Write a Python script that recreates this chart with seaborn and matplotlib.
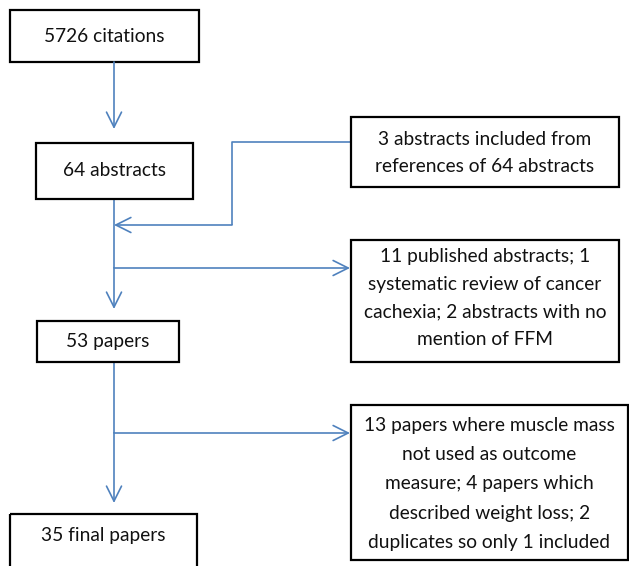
import matplotlib
matplotlib.use("Agg")
import matplotlib.pyplot as plt
from matplotlib.patches import Rectangle
import seaborn as sns

# flowchart content
stage_labels = [
    "5726 citations",
    "64 abstracts",
    "53 papers",
    "35 final papers",
]
side_labels = [
    "3 abstracts included from\nreferences of 64 abstracts",
    "11 published abstracts; 1\nsystematic review of cancer\ncachexia; 2 abstracts with no\nmention of FFM",
    "13 papers where muscle mass\nnot used as outcome\nmeasure; 4 papers which\ndescribed weight loss; 2\nduplicates so only 1 included",
]

# layout in pixel space (x0, y0, x1, y1), y grows downwards
stage_boxes = [(10, 10, 199, 62), (36, 143, 193, 199), (37, 321, 179, 362), (10, 514, 197, 590)]
stage_text_y = [36, 171, 341, 536]
side_boxes = [(351, 117, 619, 187), (351, 240, 619, 362), (351, 405, 628, 560)]
side_text_y = [153, 298, 484]
side_linespacing = [1.78, 1.74, 1.86]

sns.set_theme(style="white")
plt.rcParams["font.family"] = ["Lato", "DejaVu Sans"]

fig = plt.figure(figsize=(6.29, 5.66), dpi=100)
ax = fig.add_axes([0, 0, 1, 1])
ax.set_xlim(0, 629)
ax.set_ylim(566, 0)
ax.axis("off")

blue = "#4F81BD"
fs = 13.8


def box(b, text, ty, ls=1.2):
    x0, y0, x1, y1 = b
    ax.add_patch(Rectangle((x0, y0), x1 - x0, y1 - y0, fill=False,
                           edgecolor="black", linewidth=1.6, zorder=3))
    ax.text((x0 + x1) / 2, ty, text, ha="center", va="center",
            fontsize=fs, linespacing=ls, color="#111111", zorder=4)


def arrow(p0, p1):
    ax.annotate("", xy=p1, xytext=p0,
                arrowprops=dict(arrowstyle="->,head_length=0.9,head_width=0.45",
                                color=blue, lw=1.2, shrinkA=0, shrinkB=0))


def line(xs, ys):
    ax.plot(xs, ys, color=blue, lw=1.2, solid_capstyle="butt")


for b, t, ty in zip(stage_boxes, stage_labels, stage_text_y):
    box(b, t, ty)
for b, t, ty, ls in zip(side_boxes, side_labels, side_text_y, side_linespacing):
    box(b, t, ty, ls)

# connectors
cx = 114
arrow((cx, 62), (cx, 129))
line([351, 232, 232], [142, 142, 225])
arrow((232, 225), (cx, 225))
line([cx, cx], [199, 268])
arrow((cx, 268), (cx, 309))
arrow((cx, 268), (350, 268))
line([cx, cx], [362, 433])
arrow((cx, 433), (cx, 503))
arrow((cx, 433), (350, 433))

fig.savefig("out.png", dpi=100, facecolor="white")
